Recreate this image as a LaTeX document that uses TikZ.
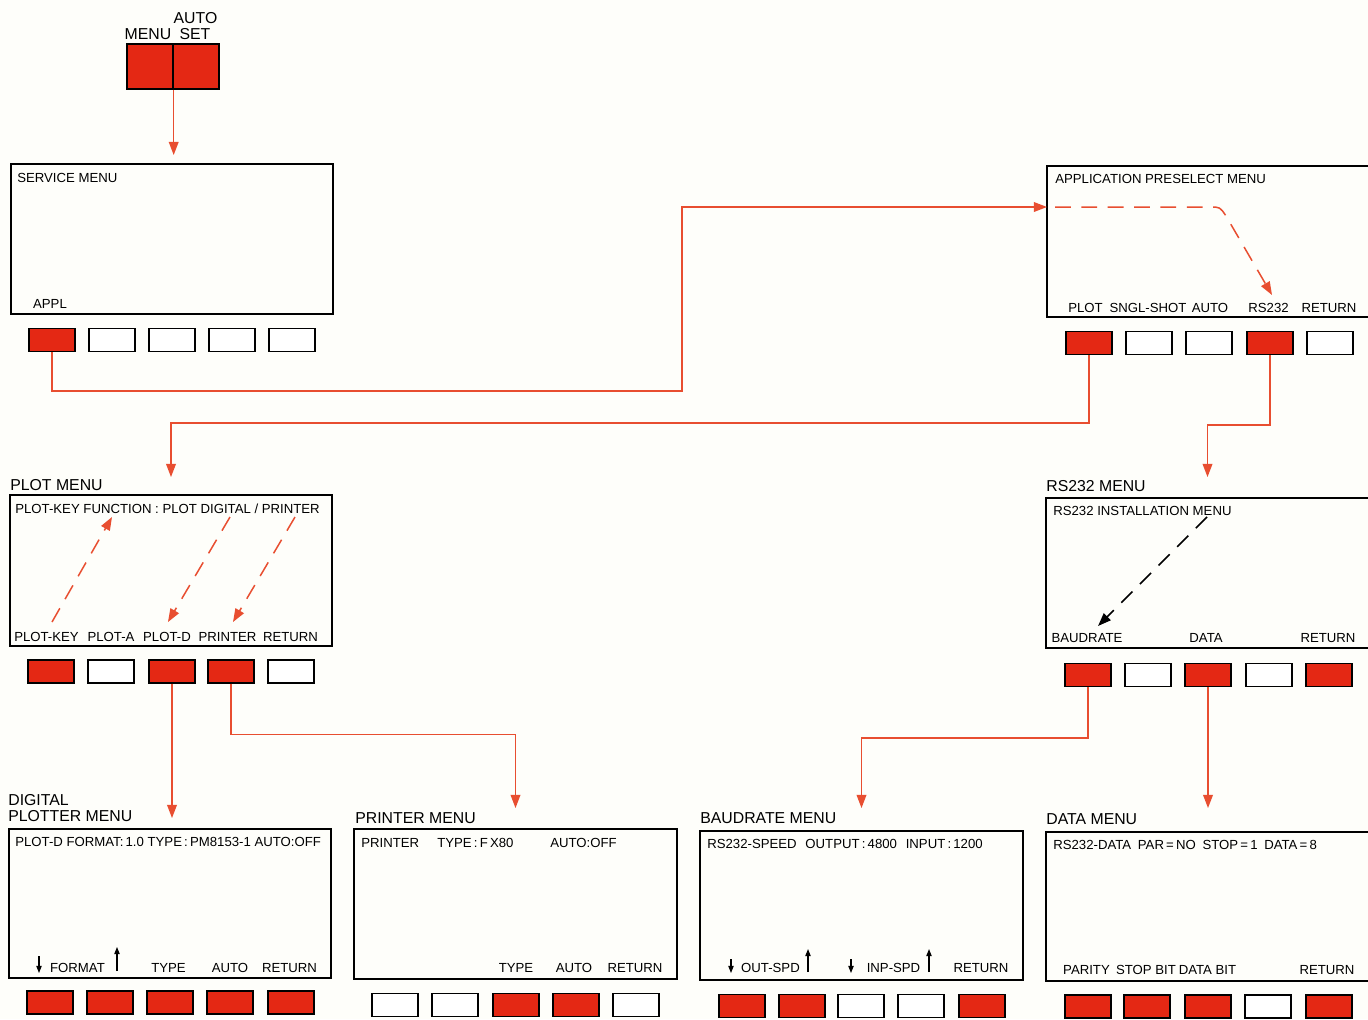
\documentclass[tikz,border=0pt]{standalone}
\usepackage{fontspec}
\setmainfont{Liberation Sans}
\usetikzlibrary{arrows.meta, calc}
\definecolor{keyred}{RGB}{228,40,20}
\definecolor{linered}{RGB}{232,78,48}
\definecolor{paper}{RGB}{254,254,250}
\tikzset{
  screen/.style={draw, line width=1.1pt, inner sep=0pt},
  key/.style={draw, line width=0.8pt, minimum width=0.92cm, minimum height=0.46cm, inner sep=0pt},
  flow/.style={draw=linered, line width=0.85pt, -{Triangle[length=7.5pt,width=5.5pt]}},
  hint/.style={flow, dash pattern=on 9pt off 6pt},
  smalltxt/.style={font=\fontsize{7.5}{9}\selectfont, inner sep=0pt},
  bigtxt/.style={font=\fontsize{9}{11}\selectfont, inner sep=0pt},
  updown/.style={line width=0.6pt, -{Triangle[length=4pt,width=3pt]}}
}

\begin{document}
\begin{tikzpicture}[x=0.02cm, y=-0.02cm]
    \path[use as bounding box, fill=paper] (0,0) rectangle (1368,1019);

    % Front keys
    \node[key, fill=keyred, minimum height=0.9cm] (mkey) at (150,66.5) {};
    \node[key, fill=keyred, minimum height=0.9cm] (akey) at (196,66.5) {};
    \node[bigtxt, anchor=base] (mlbl) at (148,39) {MENU};
    \node[bigtxt, anchor=base] (albl) at (195.5,23) {AUTO};
    \node[bigtxt, anchor=base] (slbl) at (195,39) {SET};

    % Screens
    \node[screen, minimum width=6.44cm, minimum height=3.00cm] (svc) at (172,239) {};
    \node[screen, minimum width=6.44cm, minimum height=3.02cm] (aps) at (1208,241.5) {};
    \node[screen, minimum width=6.44cm, minimum height=3.02cm] (plt) at (171,570.5) {};
    \node[screen, minimum width=6.46cm, minimum height=3.00cm] (rs) at (1207.5,573) {};
    \node[screen, minimum width=6.44cm, minimum height=2.98cm] (dpm) at (170,903.5) {};
    \node[screen, minimum width=6.46cm, minimum height=3.00cm] (prm) at (515.5,904) {};
    \node[screen, minimum width=6.46cm, minimum height=2.98cm] (bdm) at (861.5,905.5) {};
    \node[screen, minimum width=6.46cm, minimum height=2.98cm] (dtm) at (1207.5,906.5) {};

    % Soft keys
    \foreach \i/\x/\f in {1/52/keyred, 2/112/white, 3/172/white, 4/232/white, 5/292/white}
        \node[key, fill=\f] (svc\i) at (\x,340) {};
    \foreach \i/\x/\f in {1/1089/keyred, 2/1149/white, 3/1209/white, 4/1270/keyred, 5/1330/white}
        \node[key, fill=\f] (aps\i) at (\x,343) {};
    \foreach \i/\x/\f in {1/51/keyred, 2/111/white, 3/172/keyred, 4/231/keyred, 5/291/white}
        \node[key, fill=\f] (plt\i) at (\x,671.5) {};
    \foreach \i/\x/\f in {1/1088/keyred, 2/1148/white, 3/1208/keyred, 4/1269/white, 5/1329/keyred}
        \node[key, fill=\f] (rs\i) at (\x,675) {};
    \foreach \i/\x/\f in {1/50/keyred, 2/110/keyred, 3/170/keyred, 4/230/keyred, 5/291/keyred}
        \node[key, fill=\f] (dpm\i) at (\x,1002.5) {};
    \foreach \i/\x/\f in {1/395/white, 2/455/white, 3/516/keyred, 4/576/keyred, 5/636/white}
        \node[key, fill=\f] (prm\i) at (\x,1005) {};
    \foreach \i/\x/\f in {1/742/keyred, 2/802/keyred, 3/861/white, 4/921/white, 5/982/keyred}
        \node[key, fill=\f] (bdm\i) at (\x,1006) {};
    \foreach \i/\x/\f in {1/1088/keyred, 2/1147/keyred, 3/1208/keyred, 4/1268/white, 5/1329/keyred}
        \node[key, fill=\f] (dtm\i) at (\x,1006.5) {};

    % Menu titles
    \node[bigtxt, anchor=base west] (pltlbl) at (10,490) {PLOT MENU};
    \node[bigtxt, anchor=base west] (rslbl) at (1046,491) {RS232 MENU};
    \node[bigtxt, anchor=base west] (dpmlbla) at (8,805) {DIGITAL};
    \node[bigtxt, anchor=base west] (dpmlblb) at (8,821) {PLOTTER MENU};
    \node[bigtxt, anchor=base west] (prmlbl) at (355,823) {PRINTER MENU};
    \node[bigtxt, anchor=base west] (bdmlbl) at (700,823) {BAUDRATE MENU};
    \node[bigtxt, anchor=base west] (dtmlbl) at (1046,824) {DATA MENU};

    % Screen texts
    \node[smalltxt, anchor=base west] (svct) at (17,182) {SERVICE MENU};
    \node[smalltxt, anchor=base] (svcb1) at (50,308) {APPL};

    \node[smalltxt, anchor=base west] (apst) at (1055,183) {APPLICATION PRESELECT MENU};
    \foreach \i/\x/\t in {1/1085.5/PLOT, 2/1148/SNGL-SHOT, 3/1210/AUTO, 4/1268.5/RS232, 5/1329/RETURN}
        \node[smalltxt, anchor=base] (apsb\i) at (\x,312) {\t};

    \node[smalltxt, anchor=base west] (pltt) at (15,513) {PLOT-KEY FUNCTION : PLOT DIGITAL / PRINTER};
    \foreach \i/\x/\t in {1/46.5/PLOT-KEY, 2/111/PLOT-A, 3/167/PLOT-D, 4/227.5/PRINTER, 5/290.5/RETURN}
        \node[smalltxt, anchor=base] (pltb\i) at (\x,641) {\t};

    \node[smalltxt, anchor=base west] (rst) at (1053,515) {RS232 INSTALLATION MENU};
    \foreach \i/\x/\t in {1/1087/BAUDRATE, 3/1206/DATA, 5/1328/RETURN}
        \node[smalltxt, anchor=base] (rsb\i) at (\x,642) {\t};

    \node[smalltxt, anchor=base west] (dpmt) at (15,846) {PLOT-D FORMAT:\,1.0 TYPE\,:\,PM8153-1 AUTO:OFF};
    \foreach \i/\x/\t in {1/77.5/FORMAT, 3/168.5/TYPE, 4/230/AUTO, 5/289.5/RETURN}
        \node[smalltxt, anchor=base] (dpmb\i) at (\x,972) {\t};

    \node[smalltxt, anchor=base west] (prmta) at (361,847) {PRINTER};
    \node[smalltxt, anchor=base west] (prmtb) at (437,847) {TYPE\,:\,F\,X80};
    \node[smalltxt, anchor=base west] (prmtc) at (550,847) {AUTO:OFF};
    \foreach \i/\x/\t in {3/516/TYPE, 4/574/AUTO, 5/635/RETURN}
        \node[smalltxt, anchor=base] (prmb\i) at (\x,972) {\t};

    \node[smalltxt, anchor=base west] (bdmt) at (707,848) {RS232-SPEED\hspace{5pt}OUTPUT\,:\,4800\hspace{5pt}INPUT\,:\,1200};
    \foreach \i/\x/\t in {1/770.5/OUT-SPD, 3/893.5/INP-SPD, 5/981/RETURN}
        \node[smalltxt, anchor=base] (bdmb\i) at (\x,972) {\t};

    \node[smalltxt, anchor=base west] (dtmt) at (1053,849) {RS232-DATA\hspace{3.8pt}PAR\,=\,NO\hspace{3.8pt}STOP\,=\,1\hspace{3.8pt}DATA\,=\,8};
    \foreach \i/\x/\t in {1/1086.5/PARITY, 2/1146/STOP BIT, 3/1207.5/DATA BIT, 5/1327/RETURN}
        \node[smalltxt, anchor=base] (dtmb\i) at (\x,974) {\t};

    % Step arrows
    \draw[updown] (39,956) -- (39,973);
    \draw[updown] (117,971) -- (117,947);
    \draw[updown] (731,959) -- (731,973);
    \draw[updown] (808,972) -- (808,949);
    \draw[updown] (851,959) -- (851,973);
    \draw[updown] (929,972) -- (929,949);

    % Hints inside the screens
    \coordinate (apsin) at (1047,207);
    \draw[hint] (1055,207) -- (1210,207) .. controls (1220,207) .. (1226,216) -- (1272,295);
    \draw[hint] (52,622) -- (112,517);
    \draw[hint] (230,517) -- (168,622);
    \draw[hint] (295,517) -- (233,622);
    \draw[hint, draw=black] (1207,517) -- (1098,626);

    % Key flow
    \draw[flow, shorten >=0.16cm] (mkey.south east) -- (mkey.south east |- svc.north);
    \draw[flow] (svc1.south) |- (682,391) |- (apsin);
    \draw[flow, shorten >=0.34cm] (aps1.south) -- ++(0,68) -| (plt.north);
    \draw[flow, shorten >=0.40cm] (aps4.south) -- ++(0,70) -| (rs.north);
    \draw[flow, shorten >=0.20cm] (plt3.south) -- (plt3.south |- dpm.north);
    \draw[flow, shorten >=0.40cm] (plt4.south) -- ++(0,51) -| (prm.north);
    \draw[flow, shorten >=0.44cm] (rs1.south) -- ++(0,51) -| (bdm.north);
    \draw[flow, shorten >=0.46cm] (rs3.south) -- (rs3.south |- dtm.north);
\end{tikzpicture}
\end{document}
